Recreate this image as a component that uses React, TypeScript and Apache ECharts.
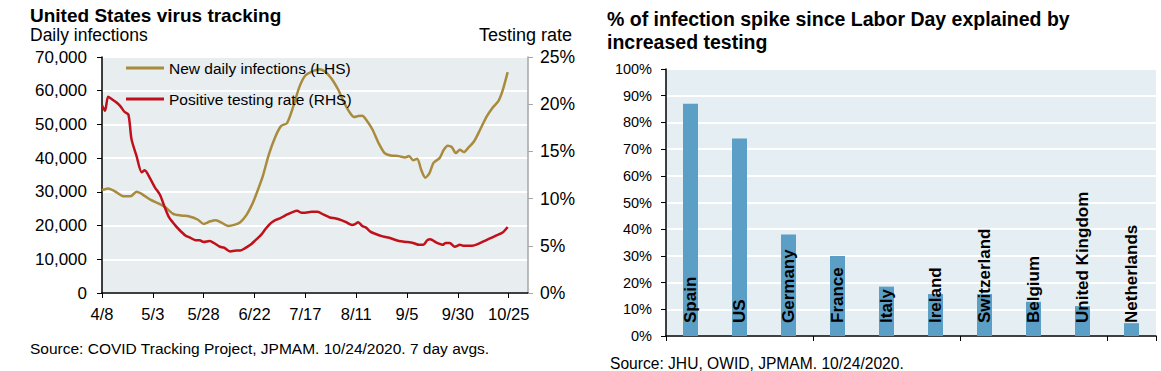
import React, { useEffect, useRef } from "react";
import * as echarts from "echarts";

// ---- Left chart: United States virus tracking (day index from 2020-04-08) ----
const startDate = Date.UTC(2020, 3, 8);
const xTickDays = [0, 25, 50, 75, 100, 125, 150, 175, 200];

const infectionDays = [0, 3, 6, 10, 14, 17, 20, 24, 28, 31, 35, 39, 43, 47, 50, 53, 56, 59, 62, 65, 68, 71, 74, 76, 79, 82, 85, 88, 91, 94, 97, 100, 104, 107, 110, 113, 116, 119, 122, 124, 126, 128, 130, 133, 136, 139, 142, 146, 149, 151, 153, 155, 157, 159, 161, 163, 166, 168, 170, 172, 174, 176, 178, 180, 183, 186, 189, 192, 195, 197, 199.5];
const infections = [30500, 31000, 30300, 28800, 28700, 30000, 29200, 27600, 26500, 25500, 23500, 23000, 22700, 21800, 20500, 21200, 21600, 20800, 19900, 20200, 21000, 23100, 26500, 29500, 34500, 41000, 46000, 49500, 50400, 55200, 61000, 64500, 65900, 66400, 65500, 63500, 60500, 56500, 53400, 52200, 52500, 52600, 51300, 48500, 44500, 41500, 40800, 40600, 40200, 40600, 39400, 39800, 36500, 34200, 35500, 38600, 40000, 42400, 43700, 43300, 41500, 42500, 41800, 43000, 45000, 48500, 52200, 54900, 57000, 60000, 65500];

const rateDays = [0, 1.5, 3, 5, 7, 9, 11, 13, 14.5, 17, 19.5, 21, 23.5, 26, 28.5, 31, 33, 35.5, 38, 41, 43, 46, 48, 50, 53, 55, 58, 60, 63, 66, 68, 70, 73, 75.5, 78, 80.5, 83, 85, 87.5, 90, 92, 94, 96, 98, 100, 103, 106, 109, 112, 115, 118, 120, 123, 124.5, 126, 128, 130, 132, 134, 138, 142, 146, 150, 153, 156, 158, 160, 161.5, 164, 166, 167.5, 169, 171, 173.5, 176, 178, 182, 185, 189, 192, 194, 197, 199.5];
const rates = [19.9, 19.3, 20.8, 20.5, 20.2, 19.8, 19.2, 18.9, 16.3, 14.5, 12.8, 13.0, 12.2, 11.2, 10.4, 9.0, 8.0, 7.3, 6.7, 6.1, 5.9, 5.6, 5.6, 5.4, 5.5, 5.3, 4.9, 4.8, 4.4, 4.5, 4.5, 4.7, 5.1, 5.6, 6.1, 6.8, 7.4, 7.7, 7.9, 8.2, 8.4, 8.6, 8.7, 8.5, 8.5, 8.6, 8.6, 8.3, 8.0, 7.9, 7.7, 7.5, 7.2, 7.3, 7.5, 7.1, 6.9, 6.5, 6.3, 6.0, 5.8, 5.5, 5.4, 5.3, 5.1, 5.1, 5.6, 5.7, 5.4, 5.2, 5.1, 5.3, 5.3, 4.9, 5.1, 5.0, 5.0, 5.2, 5.6, 5.9, 6.1, 6.4, 7.0];

// ---- Right chart: % of infection spike explained by testing ----
const countries = ["Spain", "US", "Germany", "France", "Italy", "Ireland", "Switzerland", "Belgium", "United Kingdom", "Netherlands"];
const shares = [87, 74, 38, 30, 18.5, 15.7, 15.7, 12.8, 11.2, 4.8];

const FONT = "'Liberation Sans', Arial, Helvetica, sans-serif";
const GOLD = "#A88B3D";
const RED = "#C0101A";
const BAR = "#5B9EC6";

function fmtDate(d: number) {
  const dt = new Date(startDate + Math.round(d) * 86400000);
  return `${dt.getUTCMonth() + 1}/${dt.getUTCDate()}`;
}

export default function App() {
  const ref = useRef<HTMLDivElement>(null);
  useEffect(() => {
    document.body.style.margin = "0";
    if (!ref.current) return;
    const chart = echarts.init(ref.current, undefined, { renderer: "svg" });
    const blackAxis = { show: true, lineStyle: { color: "#000", width: 1.5 } };
    const option = {
      animation: false,
      textStyle: { fontFamily: FONT },
      grid: [
        { left: 102, top: 57, width: 426, height: 236, show: true, backgroundColor: "#E8EDF0", borderWidth: 0 },
        { left: 666, top: 69, width: 490, height: 267, show: true, backgroundColor: "#E5EEF2", borderWidth: 0 },
      ],
      xAxis: [
        {
          type: "value", gridIndex: 0, min: 0, max: 209.5,
          axisLine: blackAxis,
          axisTick: { show: true, length: 5, customValues: xTickDays, lineStyle: { color: "#000" } },
          axisLabel: { customValues: xTickDays, formatter: (v: number) => fmtDate(v), fontSize: 16.5, color: "#000", margin: 12, fontFamily: FONT },
          splitLine: { show: false },
        },
        {
          type: "category", gridIndex: 1, data: countries,
          axisLine: blackAxis,
          axisTick: { show: true, length: 5, lineStyle: { color: "#000" } },
          axisLabel: { show: false },
          splitLine: { show: false },
        },
      ],
      yAxis: [
        {
          type: "value", gridIndex: 0, min: 0, max: 70000, interval: 10000,
          axisLine: blackAxis,
          axisTick: { show: true, length: 5, lineStyle: { color: "#000" } },
          axisLabel: { formatter: (v: number) => v.toLocaleString("en-US"), fontSize: 17, color: "#000", margin: 15, fontFamily: FONT },
          splitLine: { show: true, lineStyle: { color: "#fff", width: 2 } },
        },
        {
          type: "value", gridIndex: 0, position: "right", min: 0, max: 25, interval: 5,
          axisLine: { show: true, lineStyle: { color: "#A6A6A6", width: 1.5 } },
          axisTick: { show: true, length: 5, lineStyle: { color: "#A6A6A6" } },
          axisLabel: { formatter: "{value}%", fontSize: 17.5, color: "#000", margin: 12, fontFamily: FONT },
          splitLine: { show: false },
        },
        {
          type: "value", gridIndex: 1, min: 0, max: 100, interval: 10,
          axisLine: blackAxis,
          axisTick: { show: true, length: 5, lineStyle: { color: "#000" } },
          axisLabel: { formatter: "{value}%", fontSize: 14.5, color: "#000", margin: 14, fontFamily: FONT },
          splitLine: { show: true, lineStyle: { color: "#fff", width: 2 } },
        },
      ],
      legend: [
        {
          data: ["New daily infections (LHS)"], left: 126, top: 60, padding: 0,
          icon: "rect", itemWidth: 38, itemHeight: 3, selectedMode: false,
          textStyle: { fontSize: 15.5, color: "#000", fontFamily: FONT },
        },
        {
          data: ["Positive testing rate (RHS)"], left: 126, top: 91, padding: 0,
          icon: "rect", itemWidth: 38, itemHeight: 3, selectedMode: false,
          textStyle: { fontSize: 15.5, color: "#000", fontFamily: FONT },
        },
      ],
      series: [
        {
          name: "New daily infections (LHS)", type: "line", xAxisIndex: 0, yAxisIndex: 0,
          data: infectionDays.map((d, i) => [d, infections[i]]),
          showSymbol: false, smooth: 0.25, lineStyle: { color: GOLD, width: 2.5 }, itemStyle: { color: GOLD }, z: 3,
        },
        {
          name: "Positive testing rate (RHS)", type: "line", xAxisIndex: 0, yAxisIndex: 1,
          data: rateDays.map((d, i) => [d, rates[i]]),
          showSymbol: false, smooth: 0.25, lineStyle: { color: RED, width: 2.5 }, itemStyle: { color: RED }, z: 4,
        },
        {
          name: "Share explained by testing", type: "bar", xAxisIndex: 1, yAxisIndex: 2,
          data: shares, barWidth: 15, itemStyle: { color: BAR },
          label: {
            show: true, formatter: "{b}", position: "insideBottom", distance: 13,
            rotate: 90, align: "left", verticalAlign: "middle",
            fontSize: 17, fontWeight: "bold", color: "#000", fontFamily: FONT,
          },
        },
      ],
      graphic: [
        { type: "text", x: 30, y: 15, style: { text: "United States virus tracking", fontSize: 19, fontWeight: "bold", fill: "#000", fontFamily: FONT, verticalAlign: "middle" } },
        { type: "text", x: 30, y: 35, style: { text: "Daily infections", fontSize: 17.5, fill: "#000", fontFamily: FONT, verticalAlign: "middle" } },
        { type: "text", x: 572, y: 35, style: { text: "Testing rate", fontSize: 18, fill: "#000", fontFamily: FONT, verticalAlign: "middle", align: "right" } },
        { type: "text", x: 30, y: 348, style: { text: "Source: COVID Tracking Project, JPMAM. 10/24/2020. 7 day avgs.", fontSize: 15.5, fill: "#000", fontFamily: FONT, verticalAlign: "middle" } },
        { type: "text", x: 607, y: 19, style: { text: "% of infection spike since Labor Day explained by", fontSize: 19.5, fontWeight: "bold", fill: "#000", fontFamily: FONT, verticalAlign: "middle" } },
        { type: "text", x: 607, y: 42, style: { text: "increased testing", fontSize: 19.5, fontWeight: "bold", fill: "#000", fontFamily: FONT, verticalAlign: "middle" } },
        { type: "text", x: 610, y: 363, style: { text: "Source: JHU, OWID, JPMAM. 10/24/2020.", fontSize: 15.6, fill: "#000", fontFamily: FONT, verticalAlign: "middle" } },
      ],
    };
    chart.setOption(option as any);
    return () => chart.dispose();
  }, []);
  return <div ref={ref} style={{ width: 1161, height: 371 }} />;
}
